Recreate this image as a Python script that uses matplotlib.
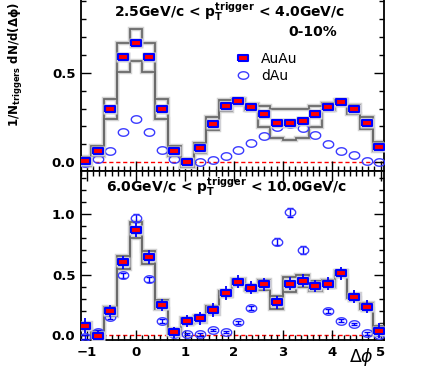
import numpy as np
import matplotlib
matplotlib.use('Agg')
import matplotlib.pyplot as plt
from matplotlib.ticker import MultipleLocator

plt.rcParams['font.family'] = 'DejaVu Sans'
plt.rcParams['mathtext.fontset'] = 'dejavusans'

# bins of pi/12, centres from -4*pi/12 to 19*pi/12
k = np.arange(-4, 20)
dphi = k * np.pi / 12
edges = (np.arange(-4, 21) - 0.5) * np.pi / 12

# 2.5 < pT trigger < 4.0 GeV/c
auau_low = [0.01, 0.065, 0.30, 0.585, 0.665, 0.585, 0.30, 0.063, 0.0, 0.082, 0.214, 0.314,
            0.34, 0.309, 0.267, 0.222, 0.217, 0.23, 0.267, 0.309, 0.337, 0.30, 0.217, 0.087]
dau_low = [-0.006, 0.019, 0.065, 0.172, 0.244, 0.172, 0.069, 0.019, 0.005, 0.0, 0.015, 0.035,
           0.067, 0.11, 0.149, 0.198, 0.212, 0.194, 0.15, 0.104, 0.063, 0.039, 0.009, 0.0]
sys_up_low = [0.028, 0.091, 0.351, 0.664, 0.743, 0.664, 0.351, 0.091, 0.017, 0.11, 0.25, 0.348,
              0.351, 0.324, 0.315, 0.296, 0.296, 0.296, 0.315, 0.328, 0.35, 0.322, 0.254, 0.115]
sys_dn_low = [-0.02, 0.035, 0.242, 0.506, 0.567, 0.506, 0.242, 0.035, -0.024, 0.05, 0.18, 0.286,
              0.318, 0.29, 0.198, 0.137, 0.124, 0.137, 0.198, 0.29, 0.318, 0.272, 0.185, 0.063]

# 6.0 < pT trigger < 10.0 GeV/c
auau_high = [0.077, -0.006, 0.196, 0.602, 0.867, 0.644, 0.251, 0.022, 0.119, 0.138, 0.207, 0.348,
             0.442, 0.392, 0.42, 0.271, 0.423, 0.448, 0.406, 0.423, 0.511, 0.318, 0.235, 0.036]
auau_high_err = [0.06, 0.05, 0.05, 0.055, 0.055, 0.055, 0.05, 0.045, 0.05, 0.055, 0.055, 0.055,
                 0.055, 0.055, 0.055, 0.055, 0.055, 0.055, 0.05, 0.055, 0.055, 0.055, 0.055, 0.06]
dau_high = [-0.014, 0.025, 0.15, 0.495, 0.967, 0.46, 0.118, 0.01, 0.01, 0.005, 0.04, 0.025,
            0.105, 0.225, 0.43, 0.771, 1.013, 0.703, 0.41, 0.201, 0.118, 0.091, 0.014, 0.0]
dau_high_err = [0.015, 0.015, 0.015, 0.02, 0.035, 0.02, 0.015, 0.01, 0.01, 0.01, 0.01, 0.01,
                0.012, 0.015, 0.02, 0.03, 0.035, 0.03, 0.02, 0.015, 0.012, 0.012, 0.01, 0.01]
sys_up_high = [0.097, 0.036, 0.235, 0.655, 0.931, 0.696, 0.29, 0.047, 0.138, 0.16, 0.243, 0.367,
               0.464, 0.414, 0.456, 0.323, 0.478, 0.497, 0.447, 0.456, 0.525, 0.34, 0.262, 0.077]
sys_dn_high = [0.047, -0.028, 0.157, 0.547, 0.804, 0.586, 0.213, 0.008, 0.097, 0.11, 0.174, 0.323,
               0.414, 0.373, 0.373, 0.213, 0.359, 0.40, 0.367, 0.40, 0.489, 0.304, 0.218, 0.0]

rect = [(-1, -0.62), (1, -0.62), (1, 0.62), (-1, 0.62), (-1, -0.62)]
t = np.linspace(0, 2 * np.pi, 41)
oval = list(zip(np.cos(t), 0.72 * np.sin(t)))


def draw_panel(ax, auau, dau, up, dn, auau_err=None, dau_err=None):
    ax.axhline(0, color='red', ls=(0, (3, 2)), lw=1.0, zorder=1)
    for vals in (up, dn):
        ax.stairs(vals, edges, baseline=None, color='#d2d2d2', lw=3.2, zorder=2)
        ax.stairs(vals, edges, baseline=None, color='#6a6a6a', lw=1.3, zorder=3)
    if dau_err is not None:
        ax.errorbar(dphi, dau, yerr=dau_err, fmt='none', ecolor='blue', elinewidth=1.0,
                    capsize=2.5, capthick=1.0, zorder=4)
    ax.plot(dphi, dau, ls='none', marker=oval, ms=7.5, mfc='none', mec='#3a3aff', mew=1.0,
            zorder=5, label='dAu')
    ax.plot(dphi, auau, ls='none', marker=rect, ms=10.5, mfc='#cfcfd8', mec='none', zorder=6)
    if auau_err is not None:
        ax.errorbar(dphi, auau, yerr=auau_err, fmt='none', ecolor='blue', elinewidth=1.3, zorder=7)
    ax.plot(dphi, auau, ls='none', marker=rect, ms=7.5, mfc='red', mec='blue', mew=1.5,
            zorder=8, label='AuAu')

    ax.set_xlim(-1.125, 5.07)
    ax.xaxis.set_major_locator(MultipleLocator(1))
    ax.xaxis.set_minor_locator(MultipleLocator(0.125))
    ax.yaxis.set_major_locator(MultipleLocator(0.5))
    ax.yaxis.set_minor_locator(MultipleLocator(0.1))
    ax.tick_params(which='both', direction='in', top=True, right=True, width=1.0,
                   labelsize=9.5, pad=4)
    ax.tick_params(which='major', length=7)
    ax.tick_params(which='minor', length=3.5)
    for s in ax.spines.values():
        s.set_linewidth(1.3)


fig = plt.figure(figsize=(4.25, 3.71), dpi=100)
ax1 = fig.add_axes([0.1906, 0.539, 0.713, 0.461])
ax2 = fig.add_axes([0.1906, 0.0836, 0.713, 0.4554])

draw_panel(ax1, auau_low, dau_low, sys_up_low, sys_dn_low)
ax1.set_ylim(-0.048, 0.904)
ax1.spines['top'].set_visible(False)
ax1.tick_params(which='both', top=False, labelbottom=False)
ax1.set_yticks([0, 0.5])

draw_panel(ax2, auau_high, dau_high, sys_up_high, sys_dn_high, auau_high_err, dau_high_err)
ax2.set_ylim(-0.041, 1.355)

for ax in (ax1, ax2):
    for lab in ax.get_xticklabels() + ax.get_yticklabels():
        lab.set_fontweight('bold')

ax1.text(0.49, 0.925, r'2.5GeV/c < p$_{\mathbf{T}}^{\mathbf{trigger}}$ < 4.0GeV/c',
         transform=ax1.transAxes, ha='center', va='center', fontsize=10, fontweight='bold')
ax1.text(0.766, 0.813, '0-10%', transform=ax1.transAxes, ha='center', va='center',
         fontsize=10, fontweight='bold')
ax2.text(0.479, 0.9, r'6.0GeV/c < p$_{\mathbf{T}}^{\mathbf{trigger}}$ < 10.0GeV/c',
         transform=ax2.transAxes, ha='center', va='center', fontsize=10, fontweight='bold')

h, l = ax1.get_legend_handles_labels()
ax1.legend(h[::-1], l[::-1], loc='upper left', bbox_to_anchor=(0.47, 0.77), frameon=False,
           fontsize=10, handlelength=1.0, handletextpad=0.8, labelspacing=0.2)

fig.text(0.038, 0.995, r'1/N$_{\mathbf{triggers}}$ dN/d($\mathbf{\Delta\phi}$)', rotation=90,
         ha='center', va='top', fontsize=8.5, fontweight='bold')
fig.text(0.85, 0.008, r'$\Delta\phi$', ha='center', va='bottom', fontsize=12.5)

fig.savefig('out.png', dpi=100)
